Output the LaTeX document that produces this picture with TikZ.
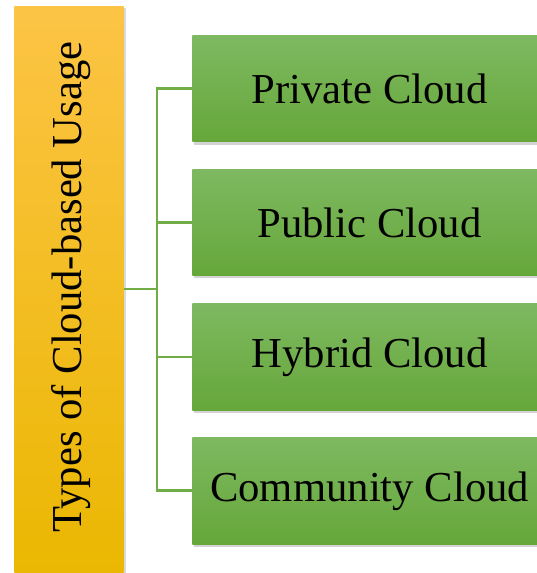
\documentclass[tikz,border=0pt]{standalone}
\usepackage{fontspec}
\setmainfont{Liberation Serif}
\usetikzlibrary{positioning, shadows}

\definecolor{barTop}{HTML}{FCC445}
\definecolor{barMid}{HTML}{FFC000}
\definecolor{barBot}{HTML}{EAB700}
\definecolor{boxTop}{HTML}{7EB961}
\definecolor{boxBot}{HTML}{66A73A}
\definecolor{linkGreen}{HTML}{70AD47}

\begin{document}
\begin{tikzpicture}[x=0.75pt, y=-0.75pt,
    every node/.style={inner sep=0pt, font=\fontsize{32}{36}\selectfont},
    typebox/.style={minimum width=266pt, minimum height=80pt,
        top color=boxTop, bottom color=boxBot,
        drop shadow={shadow xshift=1.5pt, shadow yshift=-2pt, opacity=0.35}},
    link/.style={draw=linkGreen, line width=2.2pt}]
                \useasboundingbox (0,0) rectangle (536,573);
                \node[minimum width=82pt, minimum height=436pt, anchor=north west,
                    top color=barTop, middle color=barMid, bottom color=barBot,
                    drop shadow={shadow xshift=1.5pt, shadow yshift=-1.5pt, opacity=0.3}](bar) at (14,6){};
                \node[rotate=90] (barlabel) at (71,287) {Types of Cloud-based Usage};
                \node[typebox, anchor=north west](private) at (192,35){Private Cloud};
                \node[typebox, below=20pt of private](public){Public Cloud};
                \node[typebox, below=20.5pt of public](hybrid){Hybrid Cloud};
                \node[typebox, below=20pt of hybrid](community){Community Cloud};
                \coordinate (spine) at (157,289);
                \draw[link] (bar.east |- spine) -- (spine);
                \foreach \n in {private, public, hybrid, community}
                    \draw[link] (spine) |- (\n.west);
            \end{tikzpicture}
\end{document}
